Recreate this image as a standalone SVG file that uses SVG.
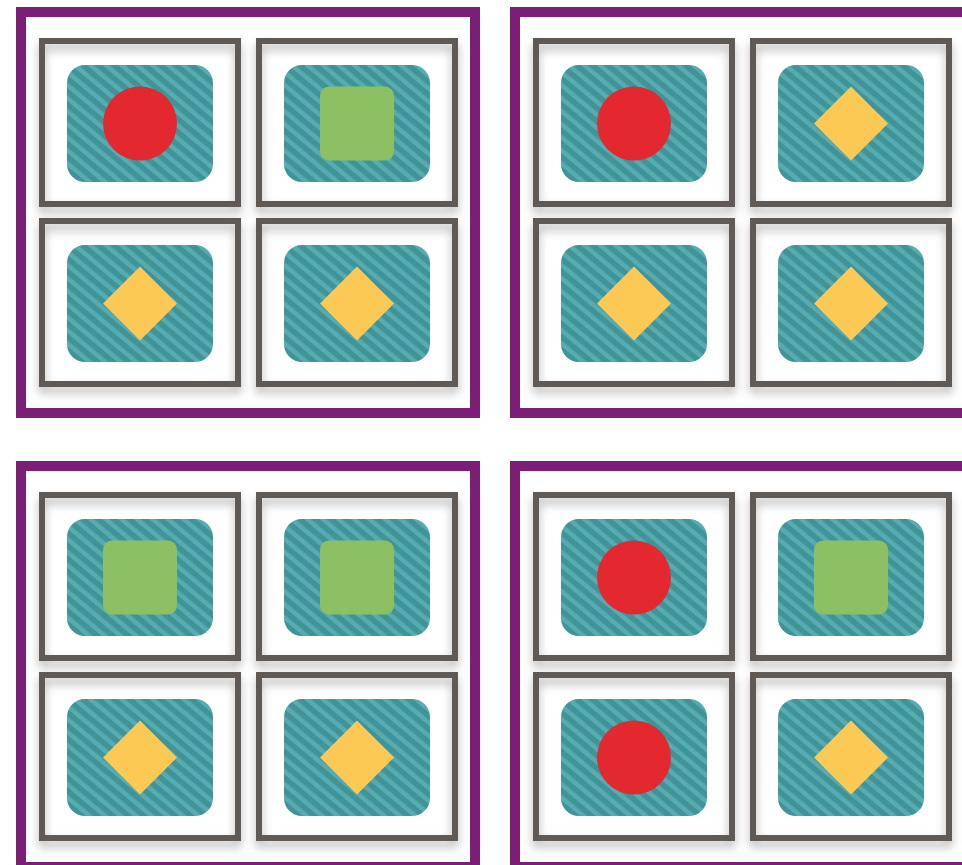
<svg xmlns="http://www.w3.org/2000/svg" width="962" height="865" viewBox="0 0 962 865">
<defs>
<pattern id="stripes" patternUnits="userSpaceOnUse" width="10" height="10" patternTransform="rotate(-50)">
<rect x="0" y="0" width="10" height="10" fill="#3F9397"/>
<rect x="0" y="0" width="4.5" height="10" fill="#57ACB1"/>
</pattern>
<filter id="shadow" x="-20%" y="-20%" width="140%" height="150%">
<feGaussianBlur in="SourceAlpha" stdDeviation="5"/>
<feOffset dx="0" dy="6" result="b"/>
<feFlood flood-color="#6e6e6e" flood-opacity="0.5"/>
<feComposite in2="b" operator="in"/>
<feMerge><feMergeNode/><feMergeNode in="SourceGraphic"/></feMerge>
</filter>
<filter id="soft" x="-5%" y="-5%" width="110%" height="110%">
<feGaussianBlur stdDeviation="0.6"/>
</filter>
</defs>
<style>
.frame{fill:#ffffff;stroke:#7A1E76;stroke-width:10}
.cellbox{fill:none;stroke:#5E5A56;stroke-width:6;filter:url(#shadow)}
.tile{fill:url(#stripes);filter:url(#soft)}
.circle{fill:#E3282F}
.square{fill:#8DC063}
.diamond{fill:#FDC955}
</style>
<rect width="962" height="865" fill="#ffffff"/>
<g id="frame-tl"><rect class="frame" x="21" y="12" width="454" height="401"/></g>
<g id="frame-tr"><rect class="frame" x="515" y="12" width="454" height="401"/></g>
<g id="frame-bl"><rect class="frame" x="21" y="466" width="454" height="401"/></g>
<g id="frame-br"><rect class="frame" x="515" y="466" width="454" height="401"/></g>

<g id="tl-c1" transform="translate(39,38)"><rect class="cellbox" x="3" y="3" width="196" height="163"/><rect class="tile" x="28" y="27" width="146" height="117" rx="18"/><circle class="circle" cx="101" cy="85.5" r="37"/></g>
<g id="tl-c2" transform="translate(256,38)"><rect class="cellbox" x="3" y="3" width="196" height="163"/><rect class="tile" x="28" y="27" width="146" height="117" rx="18"/><rect class="square" x="64" y="48.5" width="74" height="74" rx="9"/></g>
<g id="tl-c3" transform="translate(39,218)"><rect class="cellbox" x="3" y="3" width="196" height="163"/><rect class="tile" x="28" y="27" width="146" height="117" rx="18"/><polygon class="diamond" points="101,48.5 138,85.5 101,122.5 64,85.5"/></g>
<g id="tl-c4" transform="translate(256,218)"><rect class="cellbox" x="3" y="3" width="196" height="163"/><rect class="tile" x="28" y="27" width="146" height="117" rx="18"/><polygon class="diamond" points="101,48.5 138,85.5 101,122.5 64,85.5"/></g>

<g id="tr-c1" transform="translate(533,38)"><rect class="cellbox" x="3" y="3" width="196" height="163"/><rect class="tile" x="28" y="27" width="146" height="117" rx="18"/><circle class="circle" cx="101" cy="85.5" r="37"/></g>
<g id="tr-c2" transform="translate(750,38)"><rect class="cellbox" x="3" y="3" width="196" height="163"/><rect class="tile" x="28" y="27" width="146" height="117" rx="18"/><polygon class="diamond" points="101,48.5 138,85.5 101,122.5 64,85.5"/></g>
<g id="tr-c3" transform="translate(533,218)"><rect class="cellbox" x="3" y="3" width="196" height="163"/><rect class="tile" x="28" y="27" width="146" height="117" rx="18"/><polygon class="diamond" points="101,48.5 138,85.5 101,122.5 64,85.5"/></g>
<g id="tr-c4" transform="translate(750,218)"><rect class="cellbox" x="3" y="3" width="196" height="163"/><rect class="tile" x="28" y="27" width="146" height="117" rx="18"/><polygon class="diamond" points="101,48.5 138,85.5 101,122.5 64,85.5"/></g>

<g id="bl-c1" transform="translate(39,492)"><rect class="cellbox" x="3" y="3" width="196" height="163"/><rect class="tile" x="28" y="27" width="146" height="117" rx="18"/><rect class="square" x="64" y="48.5" width="74" height="74" rx="9"/></g>
<g id="bl-c2" transform="translate(256,492)"><rect class="cellbox" x="3" y="3" width="196" height="163"/><rect class="tile" x="28" y="27" width="146" height="117" rx="18"/><rect class="square" x="64" y="48.5" width="74" height="74" rx="9"/></g>
<g id="bl-c3" transform="translate(39,672)"><rect class="cellbox" x="3" y="3" width="196" height="163"/><rect class="tile" x="28" y="27" width="146" height="117" rx="18"/><polygon class="diamond" points="101,48.5 138,85.5 101,122.5 64,85.5"/></g>
<g id="bl-c4" transform="translate(256,672)"><rect class="cellbox" x="3" y="3" width="196" height="163"/><rect class="tile" x="28" y="27" width="146" height="117" rx="18"/><polygon class="diamond" points="101,48.5 138,85.5 101,122.5 64,85.5"/></g>

<g id="br-c1" transform="translate(533,492)"><rect class="cellbox" x="3" y="3" width="196" height="163"/><rect class="tile" x="28" y="27" width="146" height="117" rx="18"/><circle class="circle" cx="101" cy="85.5" r="37"/></g>
<g id="br-c2" transform="translate(750,492)"><rect class="cellbox" x="3" y="3" width="196" height="163"/><rect class="tile" x="28" y="27" width="146" height="117" rx="18"/><rect class="square" x="64" y="48.5" width="74" height="74" rx="9"/></g>
<g id="br-c3" transform="translate(533,672)"><rect class="cellbox" x="3" y="3" width="196" height="163"/><rect class="tile" x="28" y="27" width="146" height="117" rx="18"/><circle class="circle" cx="101" cy="85.5" r="37"/></g>
<g id="br-c4" transform="translate(750,672)"><rect class="cellbox" x="3" y="3" width="196" height="163"/><rect class="tile" x="28" y="27" width="146" height="117" rx="18"/><polygon class="diamond" points="101,48.5 138,85.5 101,122.5 64,85.5"/></g>

<g id="connectors"></g>
</svg>
